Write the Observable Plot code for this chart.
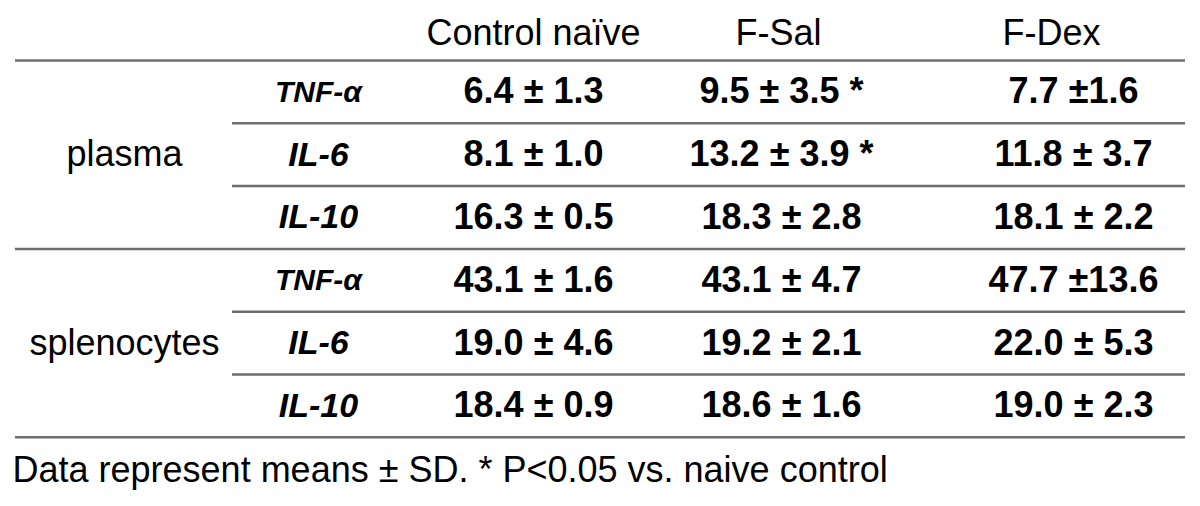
<!DOCTYPE html>
<html><head><meta charset="utf-8">
<script src="https://cdn.jsdelivr.net/npm/d3@7"></script>
<script src="https://cdn.jsdelivr.net/npm/@observablehq/plot@0.6"></script>
<style>body{margin:0;background:#fff} svg{display:block}</style>
</head><body><div id="chart"></div>
<script>
// ---- data ----
const treatments = ["Control naïve", "F-Sal", "F-Dex"];
const groups = ["plasma", "splenocytes"];
const cytokines = ["TNF-α", "IL-6", "IL-10"];
const controlMean = [6.4, 8.1, 16.3, 43.1, 19.0, 18.4];
const controlSD   = [1.3, 1.0, 0.5, 1.6, 4.6, 0.9];
const fSalMean    = [9.5, 13.2, 18.3, 43.1, 19.2, 18.6];
const fSalSD      = [3.5, 3.9, 2.8, 4.7, 2.1, 1.6];
const fSalSig     = [true, true, false, false, false, false];
const fDexMean    = [7.7, 11.8, 18.1, 47.7, 22.0, 19.0];
const fDexSD      = [1.6, 3.7, 2.2, 13.6, 5.3, 2.3];
const fDexTight   = [true, false, false, true, false, false]; // printed as "±x" without space
const footnote = "Data represent means ± SD. * P<0.05 vs. naive control";

// ---- layout ----
const W = 1200, H = 506;
const tableLeft = 15, innerLeft = 232, tableRight = 1185;
const rowTop = 60, rowH = 62.8;
const headerY = 33, footY = 470;
const groupX = 124, cytoX = 318;
const valueX = {"Control naïve": 533, "F-Sal": 781, "F-Dex": 1073};
const headX = {"Control naïve": 533, "F-Sal": 778, "F-Dex": 1051};
const font = "Liberation Sans, Arial, Helvetica, sans-serif";
const fs = 36;

const rowIndex = d3.range(groups.length * cytokines.length);
const rowCenter = i => rowTop + (i + 0.5) * rowH;
const fmt = v => v.toFixed(1);

const cells = [];
rowIndex.forEach(i => {
  cells.push({t: treatments[0], i, label: `${fmt(controlMean[i])} ± ${fmt(controlSD[i])}`});
  cells.push({t: treatments[1], i, label: `${fmt(fSalMean[i])} ± ${fmt(fSalSD[i])}${fSalSig[i] ? " *" : ""}`});
  cells.push({t: treatments[2], i, label: `${fmt(fDexMean[i])} ${fDexTight[i] ? "±" : "± "}${fmt(fDexSD[i])}`});
});
const cytoRows = rowIndex.map(i => ({i, label: cytokines[i % cytokines.length]}));
const groupRows = groups.map((g, k) => ({label: g, y: rowTop + (k * 3 + 1.5) * rowH}));

const fullLines = [0, 3, 6].map(k => rowTop + k * rowH);
const innerLines = [1, 2, 4, 5].map(k => rowTop + k * rowH);

const chart = Plot.plot({
  width: W, height: H,
  margin: 0,
  x: {domain: [0, W], range: [0, W], axis: null},
  y: {domain: [0, H], range: [0, H], axis: null},
  style: {fontFamily: font, background: "#fff"},
  marks: [
    Plot.ruleY(fullLines, {y: d => d, x1: tableLeft, x2: tableRight, stroke: "#6e6e6e", strokeWidth: 2.5}),
    Plot.ruleY(innerLines, {y: d => d, x1: innerLeft, x2: tableRight, stroke: "#6e6e6e", strokeWidth: 2.5}),
    Plot.text(treatments, {x: d => headX[d], y: headerY, text: d => d, fontSize: fs, fill: "#000", fontFamily: font}),
    Plot.text(groupRows, {x: groupX, y: "y", text: "label", fontSize: fs, fill: "#000", fontFamily: font}),
    Plot.text(cytoRows, {x: cytoX, y: d => rowCenter(d.i), text: "label", fontSize: d => d.label === "TNF-α" ? 30 : 34, fontStyle: "italic", fontWeight: "bold", fill: "#000", fontFamily: font}),
    Plot.text(cells, {x: d => valueX[d.t], y: d => rowCenter(d.i), text: "label", fontSize: fs, fontWeight: "bold", fill: "#000", fontFamily: font}),
    Plot.text([footnote], {x: 12, y: footY, text: d => d, textAnchor: "start", fontSize: fs, fill: "#000", fontFamily: font})
  ]
});
document.getElementById("chart").append(chart);
</script></body></html>
